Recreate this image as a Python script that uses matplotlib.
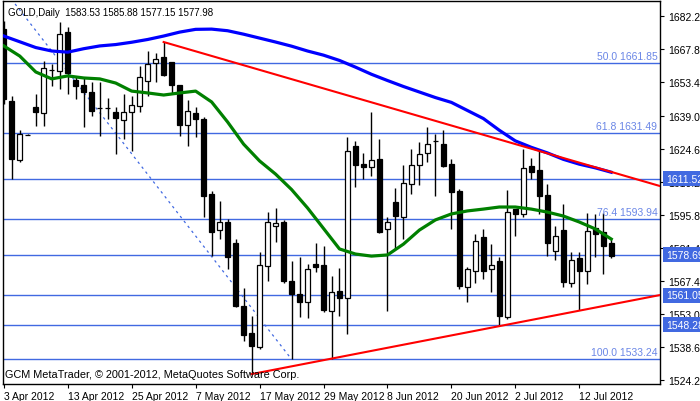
import matplotlib.pyplot as plt
import matplotlib.transforms as mtransforms

plt.rcParams['font.family'] = ['Liberation Sans', 'DejaVu Sans']

# daily OHLC, one entry per bar (3 Apr 2012 .. 18 Jul 2012)
opens = [1676.6, 1645.3, 1619.7, 1630.6, 1642.7, 1640.1, 1658.8, 1658.3, 1675.3, 1654.4,
         1652.3, 1649.2, 1642.3, 1642.3, 1640.5, 1637.1, 1640.5, 1643.1, 1654.0, 1661.8,
         1664.4, 1662.2, 1652.3, 1634.9, 1640.1, 1637.5, 1604.9, 1589.3, 1592.8, 1583.7,
         1556.3, 1544.6, 1538.5, 1573.7, 1591.1, 1592.8, 1567.2, 1561.5, 1558.1, 1574.6,
         1574.1, 1554.2, 1562.8, 1559.8, 1625.8, 1618.0, 1616.7, 1620.1, 1589.8, 1601.5,
         1595.0, 1609.3, 1617.5, 1622.7, 1628.0, 1626.6, 1618.0, 1606.2, 1564.6, 1571.5,
         1586.3, 1572.4, 1575.9, 1551.6, 1598.4, 1596.3, 1617.1, 1615.4, 1604.5, 1580.2,
         1589.3, 1566.3, 1577.2, 1571.5, 1590.2, 1588.5, 1583.53]
highs = [1680.0, 1647.5, 1632.7, 1630.8, 1648.3, 1662.7, 1661.4, 1679.6, 1677.4, 1656.2,
         1655.7, 1653.6, 1653.6, 1646.6, 1642.7, 1648.3, 1647.5, 1660.5, 1667.0, 1666.1,
         1670.9, 1662.2, 1652.3, 1645.7, 1642.7, 1638.4, 1606.2, 1601.9, 1594.1, 1585.4,
         1564.1, 1552.0, 1579.8, 1597.1, 1598.9, 1593.7, 1575.9, 1577.6, 1574.6, 1583.7,
         1582.4, 1569.4, 1572.8, 1629.7, 1628.0, 1622.7, 1640.5, 1628.8, 1595.0, 1607.5,
         1617.5, 1624.5, 1627.5, 1634.0, 1631.0, 1632.7, 1620.1, 1607.1, 1573.3, 1587.6,
         1589.8, 1583.2, 1577.6, 1606.7, 1598.4, 1624.5, 1620.6, 1623.6, 1609.3, 1591.1,
         1600.6, 1579.8, 1579.8, 1596.7, 1596.3, 1596.7, 1585.88]
lows = [1644.0, 1611.5, 1618.8, 1630.4, 1634.5, 1634.5, 1651.8, 1650.5, 1648.3, 1646.2,
        1634.0, 1638.8, 1630.1, 1637.5, 1622.3, 1628.8, 1623.6, 1640.5, 1647.5, 1653.6,
        1656.2, 1648.3, 1630.1, 1625.8, 1629.7, 1594.9, 1578.0, 1585.4, 1572.4, 1555.9,
        1541.1, 1526.8, 1537.7, 1567.2, 1584.1, 1566.3, 1533.3, 1551.6, 1551.1, 1571.1,
        1553.7, 1533.3, 1552.0, 1544.2, 1608.0, 1611.5, 1612.8, 1588.0, 1554.2, 1581.1,
        1585.4, 1604.9, 1608.8, 1618.8, 1604.1, 1616.7, 1589.8, 1563.7, 1558.1, 1566.3,
        1568.0, 1562.4, 1547.7, 1550.7, 1586.7, 1595.0, 1611.5, 1596.3, 1578.0, 1576.3,
        1564.6, 1564.6, 1554.6, 1565.9, 1577.6, 1570.2, 1577.15]
closes = [1646.2, 1620.1, 1631.0, 1630.6, 1640.5, 1659.6, 1658.9, 1674.4, 1657.5, 1651.8,
          1649.2, 1641.0, 1642.2, 1642.2, 1637.9, 1640.5, 1643.6, 1655.7, 1661.4, 1663.5,
          1656.6, 1652.3, 1634.9, 1641.0, 1637.5, 1604.1, 1588.5, 1592.8, 1577.6, 1556.3,
          1543.8, 1539.0, 1574.1, 1592.8, 1592.4, 1567.2, 1561.5, 1558.1, 1572.4, 1573.3,
          1554.6, 1562.4, 1559.8, 1623.6, 1617.5, 1616.7, 1619.7, 1588.5, 1592.8, 1595.4,
          1609.7, 1617.5, 1622.3, 1626.6, 1628.1, 1617.1, 1605.8, 1565.0, 1572.4, 1584.5,
          1571.5, 1574.1, 1552.0, 1597.1, 1596.3, 1616.2, 1614.5, 1604.1, 1583.7, 1586.7,
          1566.7, 1576.3, 1571.5, 1588.9, 1587.6, 1582.4, 1577.98]

# moving averages read every second bar
ma_bars = list(range(0, 77, 2))
ma_slow = [1673.5, 1671.0, 1668.5, 1667.0, 1666.5, 1668.0, 1669.2, 1669.8, 1670.8, 1672.0,
           1673.5, 1675.2, 1676.4, 1676.5, 1675.8, 1674.3, 1672.6, 1670.9, 1669.1, 1667.0,
           1665.2, 1662.9, 1660.0, 1656.9, 1654.2, 1651.6, 1649.2, 1646.8, 1644.7, 1641.2,
           1637.7, 1632.6, 1628.0, 1625.2, 1622.8, 1620.0, 1617.9, 1616.3, 1614.4]
ma_fast = [1669.2, 1664.8, 1657.9, 1654.9, 1656.2, 1655.3, 1654.9, 1653.1, 1649.6, 1648.8,
           1647.9, 1648.8, 1649.6, 1644.9, 1636.2, 1626.6, 1619.3, 1613.6, 1606.9, 1598.9,
           1590.0, 1581.1, 1578.9, 1578.0, 1578.5, 1583.2, 1589.3, 1593.7, 1596.3, 1597.6,
           1598.4, 1599.3, 1599.3, 1598.4, 1597.1, 1595.4, 1592.8, 1589.8, 1585.4]

date_labels = ['3 Apr 2012', '13 Apr 2012', '25 Apr 2012', '7 May 2012', '17 May 2012',
               '29 May 2012', '8 Jun 2012', '20 Jun 2012', '2 Jul 2012', '12 Jul 2012']
price_ticks = [1682.20, 1667.80, 1653.40, 1639.00, 1624.60, 1610.20, 1595.80, 1581.40,
               1567.40, 1553.00, 1538.60, 1524.20]

fib_levels = [1661.85, 1631.49, 1593.94, 1533.24]
fib_names = ['50.0', '61.8', '76.4', '100.0']
levels = [1611.52, 1578.69, 1561.05, 1548.28]

# trend lines: (bar, price) anchors
res_line = ([20, 82.1], [1670.9, 1608.4])
sup_line = ([31, 82.1], [1526.8, 1561.1])
fib_line = ([-21.7, 36], [1790.46, 1533.24])

line_blue = '#4169e1'
label_blue = '#6a86e6'

fig = plt.figure(figsize=(7, 4.02), dpi=100, facecolor='white')
ax = fig.add_axes([3 / 700, 17 / 402, 657 / 700, 383 / 402])
ax.set_xlim(-0.1, 82.1)
ax.set_ylim(1522.5, 1688.7)

for lv in fib_levels + levels:
    ax.axhline(lv, color=line_blue, lw=1.0, zorder=1)

ax.plot(fib_line[0], fib_line[1], color=line_blue, lw=0.9, ls=(0, (2, 3)), zorder=1)

bars = list(range(len(opens)))
ax.vlines(bars, lows, highs, color='black', lw=1.0, zorder=3)
bottoms = [min(o, c) for o, c in zip(opens, closes)]
heights = [abs(c - o) for o, c in zip(opens, closes)]
colors = ['white' if c >= o else 'black' for o, c in zip(opens, closes)]
ax.bar(bars, heights, bottom=bottoms, width=0.6, color=colors, edgecolor='black',
       linewidth=0.9, zorder=4)

ax.plot(ma_bars, ma_slow, color='#0000ff', lw=2.3, zorder=5)
ax.plot(ma_bars, ma_fast, color='#008000', lw=2.3, zorder=5)
ax.plot(res_line[0], res_line[1], color='#ff0000', lw=1.5, zorder=6)
ax.plot(sup_line[0], sup_line[1], color='#ff0000', lw=1.5, zorder=6)

# axes look
for s in ax.spines.values():
    s.set_color('black')
    s.set_linewidth(1.0)
ax.yaxis.tick_right()
ax.set_yticks(price_ticks)
ax.set_yticklabels([f'{p:.2f}' for p in price_ticks])
ax.tick_params(axis='y', length=3, pad=3, labelsize=7.5, colors='black')
ax.set_xticks(list(range(0, 80, 8)))
ax.set_xticklabels(date_labels, ha='left')
ax.tick_params(axis='x', length=3, pad=2, labelsize=7.5)

trans = mtransforms.blended_transform_factory(ax.transAxes, ax.transData)
for name, lv in zip(fib_names, fib_levels):
    ax.text(0.996, lv + 0.9, f'{name} {lv:.2f}', transform=trans, ha='right', va='bottom',
            fontsize=7.5, color=label_blue, zorder=7)
for lv in levels:
    ax.text(1.009, lv, f'{lv:.2f}', transform=trans, ha='left', va='center', fontsize=7.5,
            color='white', zorder=8, clip_on=False,
            bbox=dict(boxstyle='square,pad=0.25', fc=line_blue, ec='none'))

ax.text(0.007, 0.985, 'GOLD,Daily  1583.53 1585.88 1577.15 1577.98', transform=ax.transAxes,
        ha='left', va='top', fontsize=7, color='black', zorder=9)
ax.text(0.003, 0.012, 'GCM MetaTrader, © 2001-2012, MetaQuotes Software Corp.',
        transform=ax.transAxes, ha='left', va='bottom', fontsize=7.8, color='black', zorder=9)

fig.savefig('out.png', dpi=100)
